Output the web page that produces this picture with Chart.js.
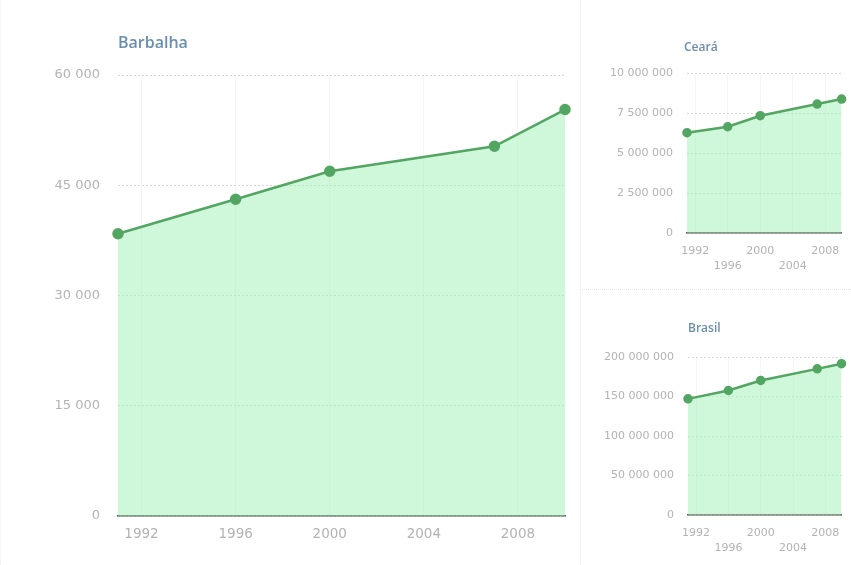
<!DOCTYPE html>
<html>
<head>
<meta charset="utf-8">
<script src="https://cdn.jsdelivr.net/npm/chart.js@4"></script>
<style>
  html, body { margin: 0; padding: 0; background: #fff; }
  body { width: 851px; height: 565px; position: relative; overflow: hidden; font-family: "Open Sans", sans-serif; }
  .box { position: absolute; }
  .title { position: absolute; color: #6a8fae; font-weight: 600; white-space: nowrap; }
  #main { left: 0; top: 0; width: 580px; height: 565px; border-left: 1px dotted #ececec; box-sizing: border-box; }
  #ceara { left: 580px; top: 0; width: 271px; height: 290px; border-left: 1px dotted #ececec; border-bottom: 1px dotted #e2e2e2; box-sizing: border-box; }
  #brasil { left: 580px; top: 290px; width: 271px; height: 275px; border-left: 1px dotted #ececec; box-sizing: border-box; }
</style>
</head>
<body>
<div class="box" id="main"><canvas id="chart-main"></canvas></div>
<div class="box" id="ceara"><canvas id="chart-ceara"></canvas></div>
<div class="box" id="brasil"><canvas id="chart-brasil"></canvas></div>
<div class="title" style="left:118px; top:31px; font-size:16px;">Barbalha</div>
<div class="title" style="left:684px; top:38px; font-size:12px;">Ceará</div>
<div class="title" style="left:688px; top:319px; font-size:12px;">Brasil</div>
<script>
// população residente (censos e contagens)
const YEARS = [1991, 1996, 2000, 2007, 2010];
const BARBALHA = [38400, 43100, 46900, 50300, 55300];
const CEARA = [6270000, 6640000, 7330000, 8060000, 8370000];
const BRASIL = [147000000, 157600000, 170300000, 185000000, 191500000];

const YEAR_TICKS = [1992, 1996, 2000, 2004, 2008];
const BARBALHA_TICKS = [0, 15000, 30000, 45000, 60000];
const CEARA_TICKS = [0, 2500000, 5000000, 7500000, 10000000];
const BRASIL_TICKS = [0, 50000000, 100000000, 150000000, 200000000];

const GREEN = '#53a662';
const FILL = 'rgba(160, 240, 180, 0.5)';
const TICK_COLOR = '#b3b3b3';

function fmt(v) {
  return String(v).replace(/\B(?=(\d{3})+(?!\d))/g, ' ');
}

function makeChart(id, values, yTicks, opt) {
  const ctx = document.getElementById(id).getContext('2d');
  return new Chart(ctx, {
    type: 'line',
    data: {
      datasets: [{
        data: YEARS.map((y, i) => ({ x: y, y: values[i] })),
        borderColor: GREEN,
        backgroundColor: FILL,
        pointBackgroundColor: GREEN,
        pointBorderColor: GREEN,
        pointRadius: opt.point,
        borderWidth: opt.line,
        fill: 'origin',
        tension: 0,
        clip: false
      }]
    },
    options: {
      responsive: true,
      maintainAspectRatio: false,
      animation: false,
      layout: { padding: { top: opt.top, right: opt.right, left: 0, bottom: 0 } },
      plugins: { legend: { display: false }, tooltip: { enabled: false } },
      scales: {
        x: {
          type: 'linear',
          min: 1991,
          max: 2010,
          afterBuildTicks: s => { s.ticks = YEAR_TICKS.map(v => ({ value: v })); },
          afterFit: s => { s.height = opt.xHeight; },
          grid: { color: 'rgba(0,0,0,0.04)', drawTicks: false },
          border: { display: true, color: '#555', width: 1.5 },
          ticks: {
            autoSkip: false,
            maxRotation: 0,
            padding: opt.xPad,
            color: TICK_COLOR,
            font: { family: 'DejaVu Sans', size: opt.xFont, lineHeight: 1.35 },
            callback: v => opt.stagger && v % 8 !== 0 ? ['', String(v)] : String(v)
          }
        },
        y: {
          min: 0,
          max: yTicks[yTicks.length - 1],
          afterBuildTicks: s => { s.ticks = yTicks.map(v => ({ value: v })); },
          afterFit: s => { s.width = opt.yWidth; },
          grid: { color: '#d8d8d8', drawTicks: false },
          border: { display: false, dash: [2, 2] },
          ticks: {
            padding: opt.yPad,
            color: TICK_COLOR,
            font: { family: 'DejaVu Sans', size: opt.yFont },
            callback: v => fmt(v)
          }
        }
      }
    }
  });
}

makeChart('chart-main', BARBALHA, BARBALHA_TICKS, {
  top: 75, right: 15, xHeight: 49, yWidth: 117, xPad: 9, yPad: 18,
  xFont: 13.5, yFont: 13, point: 4.5, line: 2.5, stagger: false
});
makeChart('chart-ceara', CEARA, CEARA_TICKS, {
  top: 73, right: 3, xHeight: 56, yWidth: 106, xPad: 11, yPad: 14,
  xFont: 11, yFont: 11, point: 3.5, line: 2.5, stagger: true
});
makeChart('chart-brasil', BRASIL, BRASIL_TICKS, {
  top: 67, right: 3, xHeight: 50, yWidth: 107, xPad: 11, yPad: 14,
  xFont: 11, yFont: 11, point: 3.5, line: 2.5, stagger: true
});
</script>
</body>
</html>
